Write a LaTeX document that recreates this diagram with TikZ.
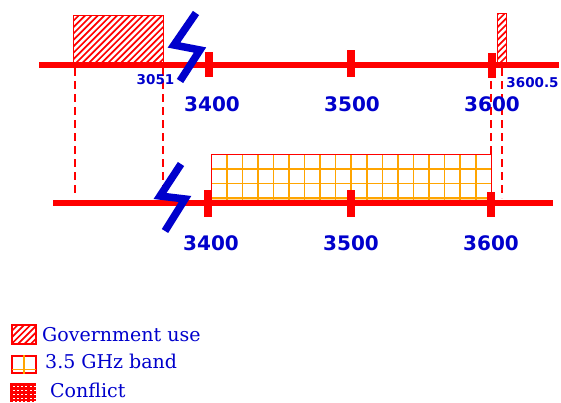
\documentclass[tikz,border=0pt]{standalone}
\usepackage{fontspec}
\newfontfamily\lblfont{DejaVu Sans}
\newfontfamily\legfont{DejaVu Serif}
\usetikzlibrary{calc}
\definecolor{fblue}{HTML}{0000CC}
\definecolor{fred}{HTML}{FF0000}
\definecolor{forange}{HTML}{FFA500}
\begin{document}
\begin{tikzpicture}[x=1pt,y=-1pt,
  axis/.style={draw=fred, line width=6pt},
  tickmark/.style={draw=fred, line width=8pt},
  brk/.style={draw=fblue, line width=7.5pt},
  guide/.style={draw=fred, line width=2pt, dash pattern=on 8pt off 5pt},
  big/.style={text=fblue, font=\lblfont\bfseries\fontsize{20}{20}\selectfont, inner sep=0pt},
  small/.style={text=fblue, font=\lblfont\bfseries\fontsize{13.5}{13.5}\selectfont, inner sep=0pt},
  legtext/.style={text=fblue, font=\legfont\fontsize{19}{19}\selectfont, inner sep=0pt, anchor=base west},
  hatched/.style={draw=fred, line width=1pt, inner sep=0pt, anchor=north west,
    path picture={
      \foreach \k in {-20,...,20}
        \draw[fred, line width=1.7pt] ($(path picture bounding box.south west)+(\k*6.4pt,0pt)$) -- ++(90pt,90pt);
    }},
  bandbox/.style={draw=none, inner sep=0pt, anchor=north west,
    path picture={
      \fill[forange!35] ($(path picture bounding box.south west)$) rectangle ++(300pt,5pt);
      \foreach \i in {1,...,17}
        \draw[forange, line width=1.6pt] ($(path picture bounding box.north west)+({\i*15.56pt},0pt)$) -- ++(0pt,-60pt);
      \foreach \j in {1,2,3}
        \draw[forange, line width=1.6pt] ($(path picture bounding box.north west)+(0pt,{-\j*14.6pt})$) -- ++(300pt,0pt);
    }},
]
\useasboundingbox (0,0) rectangle (561,402);

% guide coordinates
\coordinate (g1t) at (74.5,68);  \coordinate (g1b) at (74.5,196);
\coordinate (g2t) at (163,68);   \coordinate (g2b) at (163,196);
\coordinate (g3t) at (491,68);   \coordinate (g3b) at (491,154);
\coordinate (g4t) at (502,68);   \coordinate (g4b) at (502,198);
\draw[guide] (g1t) -- (g1b);
\draw[guide] (g2t) -- (g2b);
\draw[guide] (g3t) -- (g3b);
\draw[guide] (g4t) -- (g4b);

% government boxes
\node[hatched, minimum width=90pt, minimum height=50pt] (gov1) at (73,15) {};
\node[hatched, minimum width=9pt, minimum height=52pt] (gov2) at (497,13) {};

% 3.5 GHz band
\node[bandbox, minimum width=280pt, minimum height=49pt] (band) at (211,154) {};
\draw[fred, line width=1pt] (band.south west) -- (band.north west) -- (band.north east) -- (band.south east);

% axes
\coordinate (a1l) at (39,65);  \coordinate (a1r) at (559,65);
\coordinate (a2l) at (53,203); \coordinate (a2r) at (553,203);
\draw[axis] (a1l) -- (a1r);
\draw[axis] (a2l) -- (a2r);

% ticks
\coordinate (t1a) at (209,52); \coordinate (t1b) at (209,77);
\coordinate (t2a) at (351,50); \coordinate (t2b) at (351,77);
\coordinate (t3a) at (492,53); \coordinate (t3b) at (492,78);
\coordinate (t4a) at (208,190); \coordinate (t4b) at (208,217);
\coordinate (t5a) at (351,190); \coordinate (t5b) at (351,217);
\coordinate (t6a) at (491,192); \coordinate (t6b) at (491,217);
\draw[tickmark] (t1a) -- (t1b);
\draw[tickmark] (t2a) -- (t2b);
\draw[tickmark] (t3a) -- (t3b);
\draw[tickmark] (t4a) -- (t4b);
\draw[tickmark] (t5a) -- (t5b);
\draw[tickmark] (t6a) -- (t6b);

% breaks
\coordinate (z1a) at (196,13); \coordinate (z1b) at (174,45);
\coordinate (z1c) at (200,50); \coordinate (z1d) at (180,81);
\coordinate (z2a) at (181,164); \coordinate (z2b) at (160,196);
\coordinate (z2c) at (185,199); \coordinate (z2d) at (165,231);
\draw[brk] (z1a) -- (z1b) -- (z1c) -- (z1d);
\draw[brk] (z2a) -- (z2b) -- (z2c) -- (z2d);

% labels
\node[big] (l1) at (212,104) {3400};
\node[big] (l2) at (352,104) {3500};
\node[big] (l3) at (492,104) {3600};
\node[big] (l4) at (211,243.5) {3400};
\node[big] (l5) at (351,243.5) {3500};
\node[big] (l6) at (491,243.5) {3600};
\node[small] (l7) at (155.5,80) {3051};
\node[small] (l8) at (532.5,82.5) {3600.5};

% legend
\node[hatched, line width=1.5pt, minimum width=24pt, minimum height=19pt] (k1) at (11,324) {};
\node[legtext] (k1t) at (42,341) {Government use};

\node[draw=fred, line width=1.5pt, inner sep=0pt, anchor=north west, minimum width=24pt, minimum height=17pt] (k2) at (11,355) {};
\draw[forange, line width=1.5pt] (k2.north) -- (k2.south);
\draw[forange, line width=1.5pt] ($(k2.south west)+(1pt,4pt)$) -- ($(k2.south east)+(-1pt,4pt)$);
\node[legtext] (k2t) at (45,368) {3.5 GHz band};

\node[fill=fred, inner sep=0pt, anchor=north west, minimum width=26pt, minimum height=19pt,
  path picture={
    \foreach \i in {0,...,5}
      \foreach \j in {0,...,4}
        \fill[white] ($(path picture bounding box.north west)+({2.5pt+\i*4.2pt},{-3pt-\j*3.8pt})$) rectangle ++(2pt,-1.2pt);
  }] (k3) at (10,383) {};
\node[legtext] (k3t) at (50,397.5) {Conflict};
\end{tikzpicture}
\end{document}
